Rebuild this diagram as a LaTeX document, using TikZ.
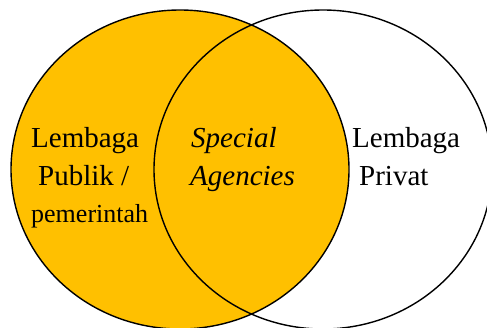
\documentclass[tikz,border=0pt]{standalone}
\usepackage{fontspec}
\setmainfont{Liberation Serif}
\definecolor{gold}{RGB}{255,192,0}
\tikzset{
  label text/.style={font=\fontsize{29}{37}\selectfont, inner sep=0pt, anchor=base west},
  set/.style={draw=black, line width=1.4pt}
}

\begin{document}
\begin{tikzpicture}[x=1pt,y=-1pt]
            \useasboundingbox (0,0) rectangle (487,327);
            \coordinate (P) at (180,169.5);
            \coordinate (Q) at (323,169.5);
            \fill[gold] (P) ellipse [x radius=169, y radius=159.5];
            \draw[set] (Q) ellipse [x radius=169, y radius=159.5];
            \draw[set] (P) ellipse [x radius=169, y radius=159.5];
            % left set
            \node[label text] (publik1) at (31,147) {Lembaga};
            \node[label text] (publik2) at (38,185) {Publik /};
            \node[label text, font=\fontsize{26}{30}\selectfont] (publik3) at (31,222) {pemerintah};
            % overlap
            \node[label text, font=\fontsize{29}{37}\selectfont\itshape] (special1) at (191,147) {Special};
            \node[label text, font=\fontsize{29}{37}\selectfont\itshape] (special2) at (190,185) {Agencies};
            % right set
            \node[label text] (privat1) at (352,147) {Lembaga};
            \node[label text] (privat2) at (359,185) {Privat};
        \end{tikzpicture}
\end{document}
